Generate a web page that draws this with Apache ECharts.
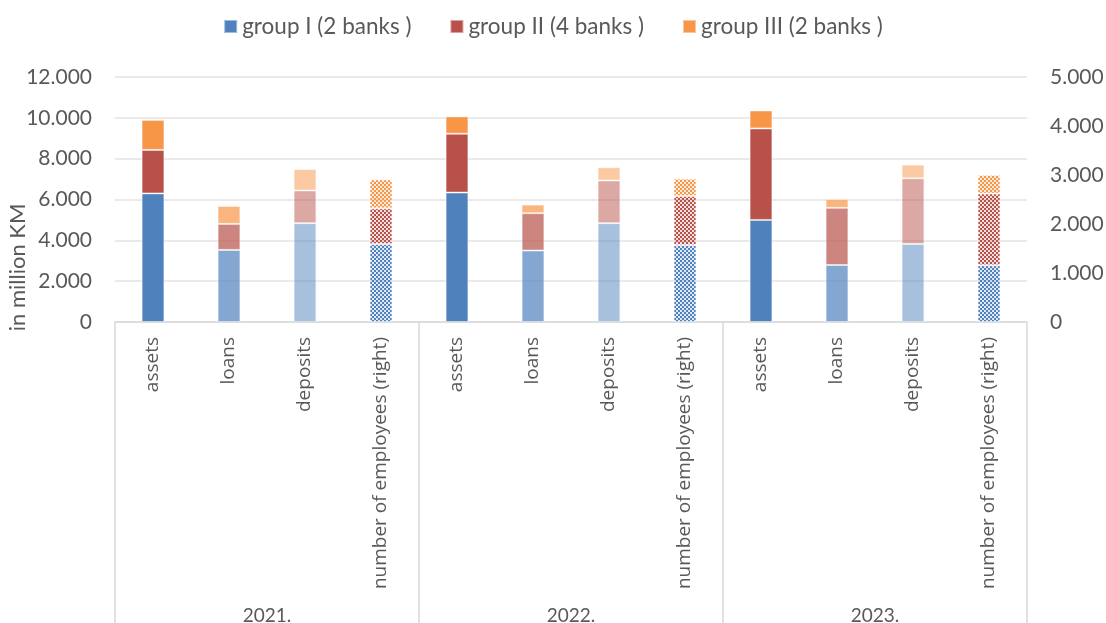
<!DOCTYPE html>
<html>
<head>
<meta charset="utf-8">
<script src="https://cdn.jsdelivr.net/npm/echarts@6/dist/echarts.min.js"></script>
<style>
  html, body { margin: 0; padding: 0; background: #ffffff; }
  #chart { width: 1106px; height: 623px; }
</style>
</head>
<body>
<div id="chart"></div>
<script>
// Years and the four measures shown for each year
const years = ['2021.', '2022.', '2023.'];
const measures = ['assets', 'loans', 'deposits', 'number of employees (right)'];
const groups = ['group I (2 banks )', 'group II (4 banks )', 'group III (2 banks )'];

// Values per year (rows) and bank group (columns: I, II, III), in million KM
const assets   = [[6300, 2130, 1470], [6340, 2880, 850], [5000, 4480, 880]];
const loans    = [[3530, 1275, 880],  [3500, 1830, 420], [2790, 2800, 430]];
const deposits = [[4840, 1600, 1050], [4840, 2090, 650], [3820, 3220, 670]];
// Number of employees (right axis)
const employees = [[1590, 730, 590], [1570, 1000, 355], [1160, 1460, 380]];

// Axis ticks
const leftTicks = [0, 2000, 4000, 6000, 8000, 10000, 12000];
const rightTicks = [0, 1000, 2000, 3000, 4000, 5000];

const groupColors = ['#4F81BD', '#B8514A', '#F79646'];
const shadeAlpha = [1, 0.7, 0.5]; // assets, loans, deposits

const FONT = 'Lato, "Liberation Sans", sans-serif';
const CAT_FONT = '"Open Sans", "DejaVu Sans", sans-serif';
const TEXT = '#595959';
const GRID_LINE = '#e3e3e3';

function rgba(hex, a) {
  const n = parseInt(hex.slice(1), 16);
  return 'rgba(' + (n >> 16) + ',' + ((n >> 8) & 255) + ',' + (n & 255) + ',' + a + ')';
}

// Small checkerboard fill for the employee bars
function checker(hex) {
  const c = document.createElement('canvas');
  c.width = 4; c.height = 4;
  const ctx = c.getContext('2d');
  ctx.fillStyle = rgba(hex, 0.18);
  ctx.fillRect(0, 0, 4, 4);
  ctx.fillStyle = hex;
  ctx.fillRect(0, 0, 2, 2);
  ctx.fillRect(2, 2, 2, 2);
  return { image: c, repeat: 'repeat' };
}

const categories = [];
years.forEach(() => measures.forEach(m => categories.push(m)));

function fmt(v) {
  return String(v).replace(/\B(?=(\d{3})+(?!\d))/g, '.');
}

const series = [];
groups.forEach((name, g) => {
  const moneyData = [];
  const staffData = [];
  years.forEach((y, yi) => {
    [assets, loans, deposits].forEach((arr, mi) => {
      moneyData.push({ value: arr[yi][g], itemStyle: { color: rgba(groupColors[g], shadeAlpha[mi]) } });
      staffData.push(null);
    });
    moneyData.push(null);
    staffData.push({ value: employees[yi][g] });
  });
  series.push({
    name: name,
    type: 'bar',
    stack: 'money',
    xAxisIndex: 0,
    yAxisIndex: 0,
    barWidth: '30%',
    barGap: '-100%',
    itemStyle: { color: groupColors[g], borderColor: 'rgba(255,255,255,0.45)', borderWidth: 1 },
    data: moneyData
  });
  series.push({
    name: name,
    type: 'bar',
    stack: 'staff',
    xAxisIndex: 0,
    yAxisIndex: 1,
    barWidth: '30%',
    barGap: '-100%',
    itemStyle: { color: checker(groupColors[g]), borderColor: 'rgba(255,255,255,0.45)', borderWidth: 1 },
    data: staffData
  });
});

const chart = echarts.init(document.getElementById('chart'), null, { renderer: 'canvas' });
chart.setOption({
  animation: false,
  textStyle: { fontFamily: FONT },
  legend: {
    top: 10,
    left: 'center',
    itemWidth: 13,
    itemHeight: 13,
    itemGap: 38,
    icon: 'rect',
    data: groups.map((n, i) => ({ name: n, itemStyle: { color: groupColors[i] } })),
    textStyle: { fontFamily: FONT, fontSize: 22.5, color: TEXT }
  },
  grid: { left: 115, right: 79, top: 77, bottom: 301, outerBoundsMode: 'none', containLabel: false },
  xAxis: [
    {
      type: 'category',
      position: 'bottom',
      data: categories,
      axisLine: { show: true, lineStyle: { color: '#d9d9d9', width: 1.5 } },
      axisTick: { show: false },
      axisLabel: {
        interval: 0,
        rotate: 90,
        margin: 15,
        color: TEXT,
        fontFamily: CAT_FONT,
        fontSize: 19
      }
    },
    {
      type: 'category',
      position: 'bottom',
      data: years,
      axisLine: { show: false },
      axisTick: { show: true, length: 305, lineStyle: { color: '#d9d9d9', width: 1.5 } },
      axisLabel: { interval: 0, margin: 284, color: TEXT, fontFamily: FONT, fontSize: 19 }
    }
  ],
  yAxis: [
    {
      type: 'value',
      min: leftTicks[0],
      max: leftTicks[leftTicks.length - 1],
      interval: leftTicks[1] - leftTicks[0],
      name: 'in million KM',
      nameLocation: 'middle',
      nameGap: 86,
      nameRotate: 90,
      nameMoveOverlap: false,
      nameTextStyle: { color: TEXT, fontFamily: FONT, fontSize: 22, padding: [0, 136, 0, 0] },
      axisLine: { show: false },
      axisTick: { show: false },
      splitLine: { lineStyle: { color: GRID_LINE, width: 1.5 } },
      axisLabel: { margin: 23, color: TEXT, fontSize: 21, formatter: fmt }
    },
    {
      type: 'value',
      min: rightTicks[0],
      max: rightTicks[rightTicks.length - 1],
      interval: rightTicks[1] - rightTicks[0],
      position: 'right',
      axisLine: { show: false },
      axisTick: { show: false },
      splitLine: { show: false },
      axisLabel: { margin: 23, color: TEXT, fontSize: 21, formatter: fmt }
    }
  ],
  series: series
});
</script>
</body>
</html>
